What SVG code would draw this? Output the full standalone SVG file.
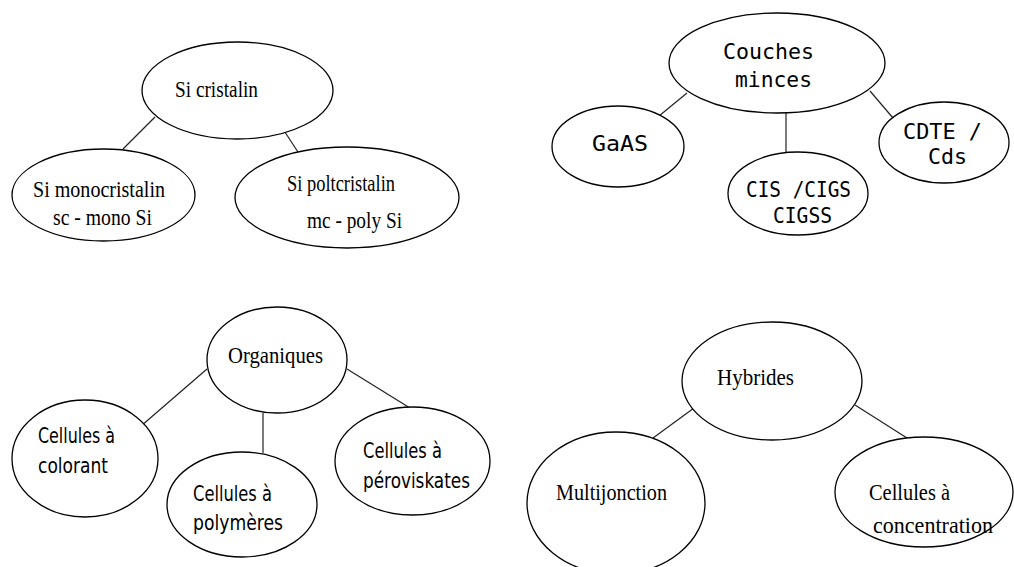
<svg xmlns="http://www.w3.org/2000/svg" width="1014" height="567" viewBox="0 0 1014 567">
<style>
.n{fill:#fff;stroke:#000;stroke-width:1.3}
.c line{stroke:#222;stroke-width:1.2}
text{fill:#000}
.s{font-family:"Liberation Serif","Times New Roman",serif;font-size:22.5px}
.m{font-family:"DejaVu Sans Mono","Liberation Mono",monospace;font-size:21px}
.w{font-family:"DejaVu Sans Condensed","DejaVu Sans","Liberation Sans",sans-serif;font-size:22px}
</style>
<rect width="1014" height="567" fill="#fff"/>
<g class="c" id="connectors">
<line x1="155" y1="117" x2="123" y2="149"/>
<line x1="277" y1="120" x2="298" y2="152"/>
<line x1="687" y1="93" x2="659" y2="116"/>
<line x1="786" y1="113" x2="786" y2="153"/>
<line x1="870" y1="91" x2="893" y2="118"/>
<line x1="207" y1="369" x2="141" y2="426"/>
<line x1="263" y1="413" x2="263" y2="453"/>
<line x1="347" y1="369" x2="410" y2="408"/>
<line x1="694" y1="408" x2="653" y2="438"/>
<line x1="855" y1="405" x2="907" y2="438"/>
</g>
<g id="si-cristalin"><ellipse class="n" cx="237.5" cy="90.5" rx="95.5" ry="48.5"/><text class="s" x="175" y="97" textLength="83" lengthAdjust="spacingAndGlyphs">Si cristalin</text></g>
<g id="si-mono"><ellipse class="n" cx="103.5" cy="195" rx="91.5" ry="46"/><text class="s" x="33" y="197" textLength="132" lengthAdjust="spacingAndGlyphs">Si monocristalin</text><text class="s" x="53" y="225" textLength="99" lengthAdjust="spacingAndGlyphs">sc - mono Si</text></g>
<g id="si-poly"><ellipse class="n" cx="347" cy="197.5" rx="112" ry="50.5"/><text class="s" x="287" y="191" textLength="108" lengthAdjust="spacingAndGlyphs">Si poltcristalin</text><text class="s" x="307" y="228" textLength="95" lengthAdjust="spacingAndGlyphs">mc - poly Si</text></g>
<g id="couches-minces"><ellipse class="n" cx="777" cy="63" rx="108" ry="50"/><text class="m" x="723" y="59" textLength="91" lengthAdjust="spacingAndGlyphs">Couches</text><text class="m" x="735" y="87" textLength="77" lengthAdjust="spacingAndGlyphs">minces</text></g>
<g id="gaas"><ellipse class="n" cx="618" cy="146.5" rx="66" ry="40.5"/><text class="m" x="592" y="151" textLength="56" lengthAdjust="spacingAndGlyphs">GaAS</text></g>
<g id="cis"><ellipse class="n" cx="798" cy="193.5" rx="70" ry="41.5"/><text class="m" x="746" y="197" textLength="105" lengthAdjust="spacingAndGlyphs" style="font-size:20.5px">CIS /CIGS</text><text class="m" x="773" y="223" textLength="59" lengthAdjust="spacingAndGlyphs" style="font-size:20.5px">CIGSS</text></g>
<g id="cdte"><ellipse class="n" cx="944" cy="142.5" rx="65" ry="40.5"/><text class="m" x="903" y="139" textLength="79" lengthAdjust="spacingAndGlyphs">CDTE /</text><text class="m" x="928" y="164" textLength="39" lengthAdjust="spacingAndGlyphs">Cds</text></g>
<g id="organiques"><ellipse class="n" cx="277" cy="360" rx="70" ry="53"/><text class="s" x="228" y="363" textLength="95" lengthAdjust="spacingAndGlyphs">Organiques</text></g>
<g id="colorant"><ellipse class="n" cx="85" cy="458.5" rx="73" ry="58.5"/><text class="w" x="38" y="443" textLength="77" lengthAdjust="spacingAndGlyphs">Cellules à</text><text class="w" x="38" y="473" textLength="70" lengthAdjust="spacingAndGlyphs">colorant</text></g>
<g id="polymeres"><ellipse class="n" cx="242" cy="504.5" rx="75" ry="52.5"/><text class="w" x="193" y="501" textLength="79" lengthAdjust="spacingAndGlyphs">Cellules à</text><text class="w" x="193" y="530" textLength="90" lengthAdjust="spacingAndGlyphs">polymères</text></g>
<g id="peroviskates"><ellipse class="n" cx="412.5" cy="461" rx="77.5" ry="54"/><text class="w" x="363" y="458" textLength="79" lengthAdjust="spacingAndGlyphs">Cellules à</text><text class="w" x="363" y="488" textLength="107" lengthAdjust="spacingAndGlyphs">péroviskates</text></g>
<g id="hybrides"><ellipse class="n" cx="772" cy="381" rx="90" ry="59"/><text class="s" x="717" y="385" textLength="77" lengthAdjust="spacingAndGlyphs">Hybrides</text></g>
<g id="multijonction"><ellipse class="n" cx="616" cy="503" rx="89" ry="71"/><text class="s" x="556" y="500" textLength="111" lengthAdjust="spacingAndGlyphs">Multijonction</text></g>
<g id="concentration"><ellipse class="n" cx="924" cy="492" rx="89" ry="55"/><text class="s" x="869" y="500" textLength="81" lengthAdjust="spacingAndGlyphs">Cellules à</text><text class="s" x="873" y="533" textLength="120" lengthAdjust="spacingAndGlyphs">concentration</text></g>
</svg>
